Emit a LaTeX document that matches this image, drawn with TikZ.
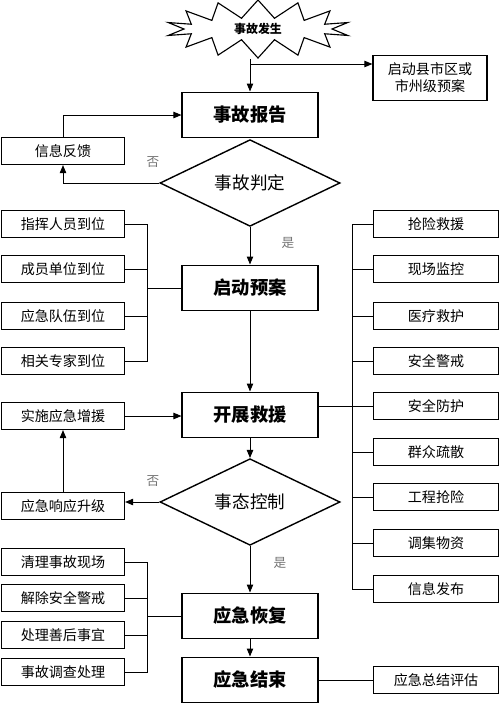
\documentclass[tikz,border=0pt]{standalone}
\usepackage{fontspec}
\setmainfont{Noto Sans CJK SC}
\usetikzlibrary{shapes.geometric,shapes.symbols,arrows.meta}
\tikzset{
  mainbox/.style={draw, line width=1.4pt, minimum width=3.375cm, minimum height=1.125cm,
    inner sep=0pt, font=\fontsize{13}{15}\selectfont\bfseries},
  sidebox/.style={draw, line width=0.8pt, minimum width=3.075cm, minimum height=0.675cm,
    inner sep=0pt, font=\fontsize{10}{12}\selectfont},
  taskbox/.style={sidebox, minimum width=3.125cm},
  decide/.style={draw, diamond, line width=1pt, minimum width=4.5cm, minimum height=1.8cm,
    inner sep=0pt, font=\fontsize{12.5}{14}\selectfont},
  answer/.style={text=black!55, font=\fontsize{9}{10}\selectfont},
  flow/.style={line width=0.7pt, -{Triangle[length=2mm,width=1.6mm]}},
  link/.style={line width=0.7pt}
}
\begin{document}
\begin{tikzpicture}[x=0.025cm, y=-0.025cm]
  \useasboundingbox (0,0) rectangle (500,705);
  % main column
  \draw
    (258,29) node[starburst, draw, line width=0.8pt, starburst points=14, starburst point height=0.45cm,
      random starburst=0, minimum width=4.6cm, minimum height=1.45cm, inner sep=0pt,
      font=\fontsize{8.5}{10}\selectfont\bfseries] (start){事故发生}
    (250,115) node[mainbox] (report){事故报告}
    (250,183) node[decide] (judge){事故判定}
    (250,288) node[mainbox] (plan){启动预案}
    (250,415) node[mainbox] (rescue){开展救援}
    (250,502) node[decide] (control){事态控制}
    (250,616) node[mainbox] (recover){应急恢复}
    (250,680) node[mainbox] (finish){应急结束};
  % side boxes
  \draw
    (430,78) node[sidebox, minimum width=2.85cm, minimum height=1.125cm, align=center] (county){启动县市区或\\ 市州级预案}
    (63,151) node[sidebox] (feedback){信息反馈}
    (63,224) node[sidebox] (l1){指挥人员到位}
    (63,269) node[sidebox] (l2){成员单位到位}
    (63,316) node[sidebox] (l3){应急队伍到位}
    (63,361) node[sidebox] (l4){相关专家到位}
    (63,416) node[sidebox] (reinforce){实施应急增援}
    (63,506) node[sidebox] (upgrade){应急响应升级}
    (63,562) node[sidebox] (b1){清理事故现场}
    (63,598) node[sidebox] (b2){解除安全警戒}
    (63,635) node[sidebox] (b3){处理善后事宜}
    (63,672) node[sidebox] (b4){事故调查处理}
    (436,680) node[taskbox] (summary){应急总结评估};
  \draw
    (436,224) node[taskbox] (r1){抢险救援}
    (436,269) node[taskbox] (r2){现场监控}
    (436,316) node[taskbox] (r3){医疗救护}
    (436,361) node[taskbox] (r4){安全警戒}
    (436,406) node[taskbox] (r5){安全防护}
    (436,452) node[taskbox] (r6){群众疏散}
    (436,497) node[taskbox] (r7){工程抢险}
    (436,543) node[taskbox] (r8){调集物资}
    (436,589) node[taskbox] (r9){信息发布};
  \draw
    (153,162) node[answer] (no1){否}
    (288,243) node[answer] (yes1){是}
    (153,481) node[answer] (no2){否}
    (280,563) node[answer] (yes2){是};
  \coordinate (split) at (250,64);
  \coordinate (busL) at (147,0);
  \coordinate (busR) at (352,0);
  % arrows
  \begin{scope}[flow]
    \draw (start.south -| report.north) -- (report.north);
    \draw (split) -- (county.west |- split);
    \draw (feedback.north) |- (report.west);
    \draw (judge.west) -| (feedback.south);
    \draw (judge.south) -- (plan.north);
    \draw (plan.south) -- (rescue.north);
    \draw (reinforce.east) -- (rescue.west |- reinforce.east);
    \draw (upgrade.north) -- (reinforce.south);
    \draw (rescue.south) -- (control.north);
    \draw (control.west) -- (upgrade.east |- control.west);
    \draw (control.south) -- (recover.north);
    \draw (recover.south) -- (finish.north);
  \end{scope}
  % brackets
  \begin{scope}[link]
    \draw (l1.east) -- (l1.east -| busL) -- (l4.east -| busL) -- (l4.east);
    \draw (l2.east) -- (l2.east -| busL);
    \draw (l3.east) -- (l3.east -| busL);
    \draw (plan.west) -- (plan.west -| busL);
    \draw (b1.east) -- (b1.east -| busL) -- (b4.east -| busL) -- (b4.east);
    \draw (b2.east) -- (b2.east -| busL);
    \draw (b3.east) -- (b3.east -| busL);
    \draw (recover.west) -- (recover.west -| busL);
    \draw (r1.west) -- (r1.west -| busR) -- (r9.west -| busR) -- (r9.west);
    \draw (r2.west) -- (r2.west -| busR);
    \draw (r3.west) -- (r3.west -| busR);
    \draw (r4.west) -- (r4.west -| busR);
    \draw (r6.west) -- (r6.west -| busR);
    \draw (r7.west) -- (r7.west -| busR);
    \draw (r8.west) -- (r8.west -| busR);
    \draw (rescue.east |- r5.west) -- (r5.west);
    \draw (finish.east) -- (summary.west);
  \end{scope}
\end{tikzpicture}
\end{document}
